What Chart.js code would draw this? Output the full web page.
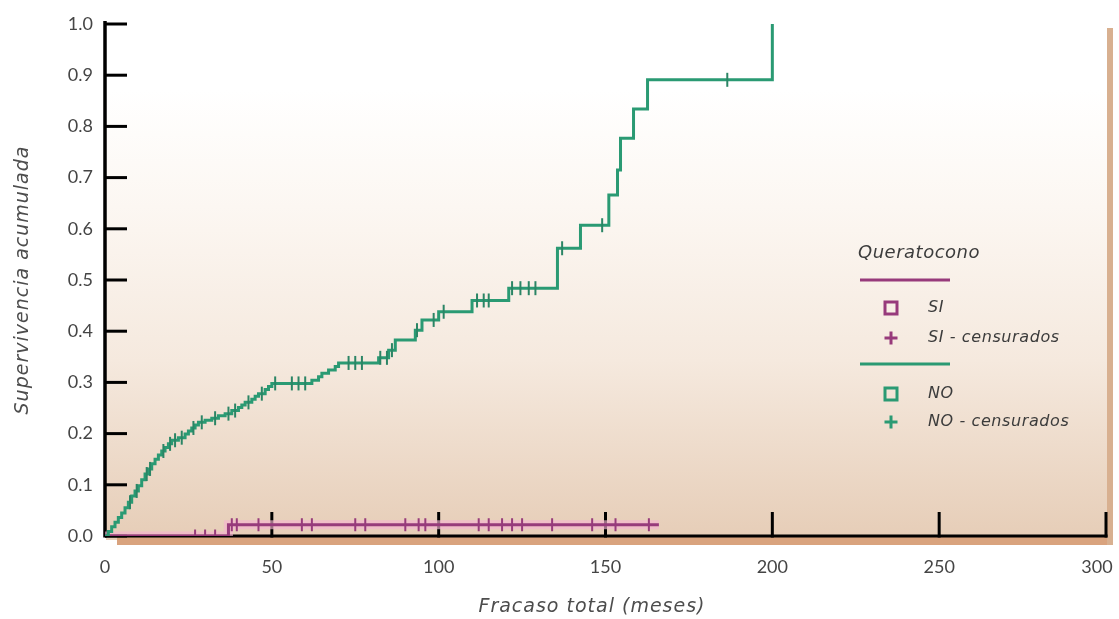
<!DOCTYPE html>
<html>
<head>
<meta charset="utf-8">
<title>Queratocono - supervivencia acumulada</title>
<script src="https://cdn.jsdelivr.net/npm/chart.js@4.4.0/dist/chart.umd.min.js"></script>
<style>
  html, body { margin: 0; padding: 0; background: #fff; }
  #wrap { width: 1119px; height: 619px; position: relative; }
</style>
</head>
<body>
<div id="wrap"><canvas id="km"></canvas></div>
<script>
// grupo NO: tiempos de evento (meses) y fracaso acumulado tras cada evento
var noTimes = [0, 1, 2, 3, 4, 5, 6, 7, 8, 9, 10, 11, 12, 13, 14, 15, 16, 17, 18, 19, 20,
  22, 24, 25, 26, 27, 28, 30, 32, 34, 36, 38, 40, 41, 42, 44, 45, 46, 48, 49, 50,
  62, 64, 65, 67, 69, 70, 82, 85, 87, 93, 95, 100, 110, 121, 135.6, 142.5, 151,
  153.6, 154.5, 158.4, 162.6, 200];
var noValues = [0, 0.009, 0.018, 0.027, 0.036, 0.045, 0.055, 0.066, 0.078, 0.088, 0.098,
  0.110, 0.121, 0.131, 0.141, 0.150, 0.158, 0.166, 0.173, 0.180, 0.187,
  0.192, 0.199, 0.205, 0.211, 0.217, 0.222, 0.226, 0.230, 0.235, 0.239, 0.245, 0.251,
  0.256, 0.261, 0.267, 0.273, 0.278, 0.286, 0.292, 0.298,
  0.304, 0.311, 0.318, 0.324, 0.331, 0.338, 0.348, 0.363, 0.383, 0.402, 0.422, 0.438,
  0.460, 0.484, 0.562, 0.607, 0.666, 0.715, 0.777, 0.834, 0.891, 1.0];
var noCensored = [7.5, 9.5, 12.5, 13.5, 17.5, 19.5, 21, 23, 26.5, 29, 33, 37, 39, 43, 47,
  51, 56, 58, 60, 73, 75, 77, 82.5, 84.5, 86, 93.5, 98.5, 101.5, 111.5, 113.5, 115,
  122, 124.5, 127, 129, 137, 149, 186.5];

// grupo SI
var siTimes = [0, 37, 166];
var siValues = [0, 0.022, 0.022];
var siCensored = [27, 30, 33, 38, 39.5, 46, 59, 62, 75, 78, 90, 94, 96, 112, 115, 119,
  122, 125, 134, 146, 153, 163];

var xTicks = [0, 50, 100, 150, 200, 250, 300];
var yTicks = [0, 0.1, 0.2, 0.3, 0.4, 0.5, 0.6, 0.7, 0.8, 0.9, 1.0];

var green = '#2a9a73';
var greenDark = '#2b8565';
var purple = '#973a7b';
var pinkHalo = 'rgba(245,180,208,0.65)';

function curvePoints(times, vals) {
  return times.map(function(t, i) { return { x: t, y: vals[i] }; });
}

// valor de la curva escalonada en t (ultimo evento <= t)
function stepValue(times, vals, t) {
  var v = 0;
  for (var i = 0; i < times.length; i++) {
    if (times[i] <= t) v = vals[i];
  }
  return v;
}

function censorPoints(times, vals, cens) {
  return cens.map(function(t) { return { x: t, y: stepValue(times, vals, t) }; });
}

var decor = {
  id: 'decor',
  beforeDraw: function(chart) {
    var ctx = chart.ctx;
    ctx.save();
    var g = ctx.createLinearGradient(0, 28, 0, 540);
    g.addColorStop(0, '#ffffff');
    g.addColorStop(0.12, '#ffffff');
    g.addColorStop(0.35, '#fcf7f2');
    g.addColorStop(0.65, '#f5e9de');
    g.addColorStop(1, '#e6cdb7');
    ctx.fillStyle = g;
    ctx.fillRect(106, 28, 1004, 512);
    // banda inferior y borde derecho
    ctx.fillStyle = '#d9a37e';
    ctx.fillRect(117, 537, 995, 8);
    ctx.fillStyle = '#d8b090';
    ctx.fillRect(1107, 28, 6, 517);
    ctx.restore();
  },
  beforeDatasetsDraw: function(chart) {
    var ctx = chart.ctx;
    var x = chart.scales.x, y = chart.scales.y;
    var a = chart.chartArea;
    ctx.save();
    ctx.strokeStyle = '#000';
    ctx.lineWidth = 3.5;
    ctx.beginPath();
    ctx.moveTo(a.left, y.getPixelForValue(1) - 3);
    ctx.lineTo(a.left, a.bottom + 1.5);
    ctx.stroke();
    ctx.lineWidth = 3;
    ctx.beginPath();
    ctx.moveTo(a.left, a.bottom);
    ctx.lineTo(x.getPixelForValue(300) + 1.5, a.bottom);
    ctx.stroke();
    // marcas hacia dentro
    yTicks.forEach(function(v) {
      var py = y.getPixelForValue(v);
      ctx.beginPath();
      ctx.moveTo(a.left, py);
      ctx.lineTo(a.left + 22, py);
      ctx.stroke();
    });
    xTicks.forEach(function(v) {
      if (v === 0) return;
      var px = x.getPixelForValue(v);
      ctx.beginPath();
      ctx.moveTo(px, a.bottom + 1.5);
      ctx.lineTo(px, a.bottom - 24);
      ctx.stroke();
    });
    ctx.restore();
  },
  afterDraw: function(chart) {
    var ctx = chart.ctx;
    var a = chart.chartArea;
    ctx.save();
    // titulos de los ejes
    ctx.fillStyle = '#4d4d4d';
    ctx.font = 'italic 19px "DejaVu Sans"';
    ctx.letterSpacing = '1px';
    ctx.textAlign = 'center';
    ctx.textBaseline = 'middle';
    ctx.fillText('Fracaso total (meses)', 592, 607);
    ctx.save();
    ctx.translate(23, (a.top + a.bottom) / 2);
    ctx.rotate(-Math.PI / 2);
    ctx.fillText('Supervivencia acumulada', 0, 0);
    ctx.restore();

    // leyenda
    ctx.textAlign = 'left';
    ctx.fillStyle = '#3c3c3c';
    ctx.letterSpacing = '0.5px';
    ctx.font = 'italic 18px "DejaVu Sans"';
    ctx.fillText('Queratocono', 858, 253);
    ctx.letterSpacing = '0.6px';
    ctx.font = 'italic 16px "DejaVu Sans"';
    var rows = [
      { col: purple, y: 280, sq: 308, plus: 338, a: 'SI', b: 'SI - censurados' },
      { col: green, y: 364, sq: 394, plus: 422, a: 'NO', b: 'NO - censurados' }
    ];
    rows.forEach(function(r) {
      ctx.strokeStyle = r.col;
      ctx.lineWidth = 3;
      ctx.beginPath();
      ctx.moveTo(860, r.y);
      ctx.lineTo(950, r.y);
      ctx.stroke();
      ctx.strokeRect(885, r.sq - 6, 12, 12);
      ctx.beginPath();
      ctx.moveTo(884.5, r.plus);
      ctx.lineTo(897.5, r.plus);
      ctx.moveTo(891, r.plus - 6.5);
      ctx.lineTo(891, r.plus + 6.5);
      ctx.stroke();
      ctx.fillStyle = '#3c3c3c';
      ctx.fillText(r.a, 928, r.sq);
      ctx.fillText(r.b, 928, r.plus);
    });
    ctx.restore();
  }
};

var config = {
  type: 'line',
  data: {
    datasets: [{
      label: 'NO - censurados',
      type: 'scatter',
      data: censorPoints(noTimes, noValues, noCensored),
      pointStyle: 'line',
      rotation: 90,
      pointRadius: 7,
      pointBorderWidth: 2,
      borderColor: greenDark,
      order: 1
    }, {
      label: 'NO',
      data: curvePoints(noTimes, noValues),
      stepped: 'before',
      borderColor: green,
      borderWidth: 3,
      pointRadius: 0,
      fill: false,
      order: 2
    }, {
      label: 'SI - censurados',
      type: 'scatter',
      data: censorPoints(siTimes, siValues, siCensored),
      pointStyle: 'line',
      rotation: 90,
      pointRadius: 6.5,
      pointBorderWidth: 2,
      borderColor: purple,
      order: 3
    }, {
      label: 'SI',
      data: curvePoints(siTimes, siValues),
      stepped: 'before',
      borderColor: purple,
      borderWidth: 3,
      pointRadius: 0,
      fill: false,
      order: 4
    }, {
      label: 'SI halo',
      data: curvePoints(siTimes, siValues),
      stepped: 'before',
      borderColor: pinkHalo,
      borderWidth: 9,
      pointRadius: 0,
      fill: false,
      order: 5
    }]
  },
  options: {
    responsive: true,
    maintainAspectRatio: false,
    animation: false,
    layout: { padding: { top: 24, right: 13, bottom: 0, left: 0 } },
    plugins: {
      legend: { display: false },
      tooltip: { enabled: false }
    },
    scales: {
      x: {
        type: 'linear',
        min: 0,
        max: 300,
        afterBuildTicks: function(s) { s.ticks = xTicks.map(function(v) { return { value: v }; }); },
        afterFit: function(s) { s.height = 83; s.paddingLeft = 0; s.paddingRight = 0; },
        grid: { display: false, drawTicks: false },
        border: { display: false },
        ticks: {
          padding: 20,
          maxRotation: 0,
          color: '#454545',
          font: { family: 'Lato', size: 18 },
          // el ultimo rotulo queda pegado al borde: espacios finales lo desplazan a la izquierda
          callback: function(v) { return v === 300 ? '300\u2002\u2002' : String(v); }
        }
      },
      y: {
        min: 0,
        max: 1,
        afterBuildTicks: function(s) { s.ticks = yTicks.map(function(v) { return { value: v }; }); },
        afterFit: function(s) { s.width = 105; s.paddingTop = 0; s.paddingBottom = 0; },
        grid: { display: false, drawTicks: false },
        border: { display: false },
        ticks: {
          padding: 12,
          color: '#454545',
          font: { family: 'Lato', size: 18 },
          callback: function(v) { return v.toFixed(1); }
        }
      }
    }
  },
  plugins: [decor]
};

window.onload = function() {
  var ctx = document.getElementById('km').getContext('2d');
  window.kmChart = new Chart(ctx, config);
};
</script>
</body>
</html>
